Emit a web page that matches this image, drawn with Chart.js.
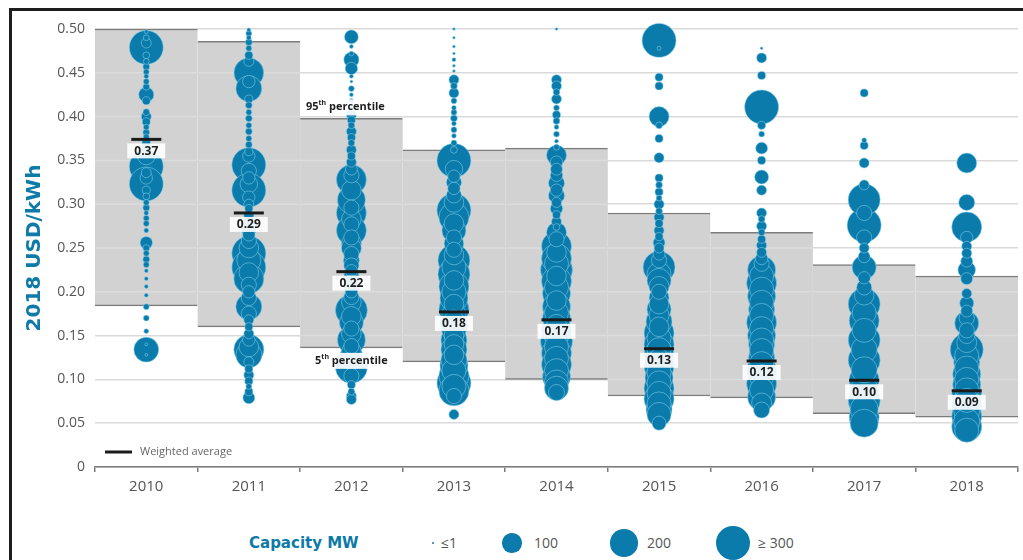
<!DOCTYPE html>
<html>
<head>
<meta charset="utf-8">
<script src="https://cdn.jsdelivr.net/npm/chart.js@4.4.1/dist/chart.umd.min.js"></script>
<style>
html,body{margin:0;padding:0;background:#fff;width:1023px;height:560px;overflow:hidden;font-family:"Open Sans",sans-serif;}
#frameL{position:absolute;left:9px;top:8px;width:3px;height:552px;background:#1e1e1e;}
#frameT{position:absolute;left:9px;top:8px;width:1014px;height:3px;background:#1e1e1e;}
#chart{position:absolute;left:0;top:0;}
#legend{position:absolute;left:0;top:520px;width:1023px;height:40px;}
.lg{position:absolute;top:0;height:46px;line-height:46px;white-space:nowrap;}
.lgTitle{font-family:"DejaVu Sans",sans-serif;font-weight:bold;font-size:15px;color:#0d7aa8;}
.lgText{font-family:"Open Sans",sans-serif;font-size:14px;color:#555;}
.dot{position:absolute;background:#0a7bab;border-radius:50%;}
</style>
</head>
<body>
<canvas id="chart" width="1023" height="505"></canvas>
<div id="legend"></div>
<div id="frameL"></div>
<div id="frameT"></div>
<script>
// ---------------- data ----------------
const years = [2010, 2011, 2012, 2013, 2014, 2015, 2016, 2017, 2018];
const percentile95 = [0.500, 0.486, 0.398, 0.362, 0.364, 0.290, 0.268, 0.231, 0.218];
const percentile5  = [0.184, 0.160, 0.136, 0.120, 0.100, 0.081, 0.079, 0.061, 0.057];
const weightedAverage = [0.374, 0.290, 0.223, 0.177, 0.168, 0.135, 0.121, 0.099, 0.087];
const averageLabels = ['0.37', '0.29', '0.22', '0.18', '0.17', '0.13', '0.12', '0.10', '0.09'];
const yAxisTitle = '2018 USD/kWh';
const legendTitle = 'Capacity MW';
const legendCapacities = [1, 100, 200, 300];
const legendLabels = ['≤1', '100', '200', '≥ 300'];

// [USD/kWh, capacity MW]
const projects2010 = [[0.497,4],[0.490,9],[0.484,26],[0.479,300],[0.470,12],[0.463,9],[0.457,12],[0.451,9],[0.446,6],[0.440,9],[0.434,12],[0.425,60],[0.418,17],[0.405,12],[0.400,26],[0.394,17],[0.388,9],[0.382,12],[0.377,9],[0.370,20],[0.362,40],[0.355,80],[0.343,300],[0.336,26],[0.330,40],[0.323,300],[0.316,17],[0.309,12],[0.302,9],[0.296,12],[0.290,6],[0.284,9],[0.278,9],[0.270,6],[0.256,40],[0.250,12],[0.244,9],[0.237,12],[0.231,9],[0.224,4],[0.215,4],[0.206,4],[0.196,4],[0.183,9],[0.170,9],[0.155,6],[0.134,160],[0.140,2],[0.128,2]];
const projects2011 = [[0.499,4],[0.495,9],[0.490,6],[0.485,12],[0.478,9],[0.470,17],[0.463,26],[0.450,230],[0.440,40],[0.432,175],[0.420,17],[0.413,12],[0.405,9],[0.398,12],[0.390,9],[0.383,12],[0.375,9],[0.368,12],[0.360,17],[0.355,40],[0.345,300],[0.338,60],[0.330,40],[0.323,80],[0.316,300],[0.308,40],[0.300,26],[0.295,17],[0.287,26],[0.280,40],[0.272,60],[0.265,40],[0.258,60],[0.250,100],[0.244,300],[0.236,150],[0.228,300],[0.222,100],[0.215,234],[0.208,60],[0.200,40],[0.193,60],[0.183,176],[0.175,60],[0.168,26],[0.160,17],[0.152,26],[0.145,40],[0.137,100],[0.134,234],[0.128,176],[0.120,26],[0.112,17],[0.105,26],[0.098,17],[0.092,9],[0.086,17],[0.079,37]];
const projects2012 = [[0.491,50],[0.480,4],[0.472,6],[0.465,60],[0.455,40],[0.446,4],[0.440,2],[0.432,9],[0.425,4],[0.418,6],[0.410,4],[0.402,26],[0.396,17],[0.390,12],[0.383,26],[0.376,17],[0.370,12],[0.362,26],[0.355,17],[0.348,26],[0.340,37],[0.333,60],[0.328,234],[0.316,100],[0.305,204],[0.296,60],[0.290,234],[0.283,100],[0.277,60],[0.270,234],[0.262,60],[0.255,104],[0.250,104],[0.243,60],[0.236,67],[0.230,60],[0.224,40],[0.218,60],[0.212,40],[0.206,60],[0.200,40],[0.194,60],[0.188,100],[0.179,266],[0.172,100],[0.165,150],[0.158,60],[0.152,100],[0.145,204],[0.138,60],[0.132,100],[0.125,150],[0.114,266],[0.104,60],[0.094,17],[0.086,12],[0.081,26],[0.077,26]];
const projects2013 = [[0.500,1],[0.490,1],[0.480,2],[0.472,1],[0.465,4],[0.458,2],[0.452,2],[0.442,26],[0.435,12],[0.427,26],[0.418,9],[0.410,6],[0.405,9],[0.398,12],[0.392,6],[0.385,9],[0.378,6],[0.370,9],[0.362,12],[0.350,300],[0.340,80],[0.332,40],[0.325,60],[0.318,40],[0.310,60],[0.302,100],[0.293,300],[0.285,234],[0.278,100],[0.270,150],[0.262,60],[0.255,100],[0.248,60],[0.242,100],[0.236,266],[0.228,150],[0.220,266],[0.213,100],[0.206,234],[0.200,150],[0.193,204],[0.186,100],[0.180,234],[0.174,150],[0.168,100],[0.162,204],[0.156,150],[0.150,100],[0.145,176],[0.140,100],[0.134,176],[0.128,100],[0.122,176],[0.116,204],[0.110,150],[0.104,234],[0.096,300],[0.092,150],[0.087,234],[0.081,60],[0.060,26]];
const projects2014 = [[0.500,1],[0.442,26],[0.435,26],[0.428,12],[0.420,26],[0.410,9],[0.402,17],[0.395,12],[0.388,6],[0.380,9],[0.372,4],[0.365,9],[0.356,104],[0.348,40],[0.340,37],[0.333,40],[0.324,67],[0.316,40],[0.310,67],[0.302,26],[0.295,40],[0.288,17],[0.280,26],[0.274,12],[0.268,104],[0.260,60],[0.252,234],[0.245,100],[0.238,234],[0.232,150],[0.225,266],[0.218,100],[0.212,234],[0.205,150],[0.198,204],[0.190,100],[0.183,204],[0.176,150],[0.170,204],[0.163,100],[0.156,234],[0.150,150],[0.143,266],[0.137,150],[0.130,234],[0.124,150],[0.117,234],[0.110,150],[0.103,204],[0.097,150],[0.090,150],[0.085,67]];
const projects2015 = [[0.487,300],[0.478,4],[0.445,17],[0.435,17],[0.400,104],[0.390,12],[0.375,17],[0.353,26],[0.330,17],[0.322,12],[0.314,17],[0.307,9],[0.300,26],[0.292,12],[0.285,26],[0.278,17],[0.270,26],[0.263,17],[0.256,37],[0.250,26],[0.243,37],[0.236,60],[0.228,266],[0.220,150],[0.213,150],[0.206,104],[0.200,60],[0.193,104],[0.186,100],[0.180,150],[0.173,104],[0.166,176],[0.160,100],[0.153,234],[0.147,150],[0.140,234],[0.134,150],[0.128,234],[0.121,150],[0.115,234],[0.108,150],[0.102,204],[0.096,150],[0.090,234],[0.084,150],[0.078,234],[0.072,150],[0.066,176],[0.060,150],[0.050,51]];
const projects2016 = [[0.478,1],[0.467,26],[0.447,17],[0.411,300],[0.390,17],[0.380,9],[0.364,37],[0.350,17],[0.331,51],[0.316,26],[0.290,26],[0.283,12],[0.275,26],[0.268,12],[0.260,17],[0.253,26],[0.245,26],[0.238,40],[0.232,60],[0.225,204],[0.218,150],[0.210,234],[0.203,150],[0.195,204],[0.188,150],[0.180,176],[0.173,150],[0.165,234],[0.158,150],[0.150,204],[0.145,150],[0.140,176],[0.133,150],[0.125,176],[0.118,150],[0.110,234],[0.103,150],[0.095,234],[0.088,150],[0.080,204],[0.073,104],[0.065,67]];
const projects2017 = [[0.427,17],[0.373,6],[0.367,17],[0.347,26],[0.322,26],[0.305,266],[0.290,60],[0.276,300],[0.262,60],[0.250,26],[0.240,37],[0.228,150],[0.216,40],[0.205,60],[0.196,100],[0.186,266],[0.176,150],[0.167,234],[0.156,150],[0.145,266],[0.134,176],[0.122,266],[0.111,176],[0.099,234],[0.088,204],[0.076,266],[0.066,204],[0.057,234],[0.050,204]];
const projects2018 = [[0.347,104],[0.302,67],[0.274,234],[0.262,40],[0.252,26],[0.244,26],[0.235,37],[0.225,80],[0.215,37],[0.198,26],[0.187,51],[0.178,37],[0.170,60],[0.164,150],[0.156,60],[0.150,67],[0.142,104],[0.134,284],[0.127,150],[0.120,176],[0.113,150],[0.106,204],[0.100,150],[0.094,204],[0.088,150],[0.082,234],[0.076,150],[0.070,234],[0.064,176],[0.058,234],[0.052,176],[0.046,234],[0.042,150]];

const projectsByYear = [projects2010, projects2011, projects2012, projects2013, projects2014, projects2015, projects2016, projects2017, projects2018];

// ---------------- styling helpers ----------------
const TEAL = '#0a7bab';
const radiusFor = mw => Math.max(1.3, Math.sqrt(mw) * 0.98);

const bubbleData = [];
years.forEach((yr, i) => projectsByYear[i].forEach(([price, mw]) => bubbleData.push({x: yr, y: price, r: radiusFor(mw)})));
bubbleData.sort((a, b) => b.r - a.r);

const bandData = years.map((yr, i) => ({x: yr, y: [percentile5[i], percentile95[i]]}));

// ---------------- overlay plugin ----------------
function drawSupLabel(ctx, main, sup, rest, cx, cy) {
  ctx.font = 'bold 11px "Open Sans"';
  const w1 = ctx.measureText(main).width;
  const w3 = ctx.measureText(rest).width;
  ctx.font = 'bold 7px "Open Sans"';
  const w2 = ctx.measureText(sup).width;
  const total = w1 + w2 + w3;
  ctx.fillStyle = 'rgba(255,255,255,0.92)';
  ctx.fillRect(cx - total / 2 - 3, cy - 8, total + 6, 16);
  ctx.fillStyle = '#1e1e1e';
  ctx.textBaseline = 'middle';
  ctx.textAlign = 'left';
  let x = cx - total / 2;
  ctx.font = 'bold 11px "Open Sans"';
  ctx.fillText(main, x, cy); x += w1;
  ctx.font = 'bold 7px "Open Sans"';
  ctx.fillText(sup, x, cy - 4); x += w2;
  ctx.font = 'bold 11px "Open Sans"';
  ctx.fillText(rest, x, cy);
}

const overlayPlugin = {
  id: 'overlay',
  beforeDatasetDraw(chart, args) {
    if (args.index !== 1) return;
    const {ctx} = chart;
    const yScale = chart.scales.y;
    const bars = chart.getDatasetMeta(0).data;
    bars.forEach(bar => {
      const top = Math.min(bar.y, bar.base), bot = Math.max(bar.y, bar.base);
      ctx.save();
      ctx.beginPath();
      ctx.rect(bar.x - bar.width / 2, top + 1.5, bar.width, bot - top - 3);
      ctx.clip();
      ctx.strokeStyle = '#dcdcdc';
      ctx.lineWidth = 1.5;
      yScale.ticks.forEach(t => {
        const py = yScale.getPixelForValue(t.value);
        ctx.beginPath();
        ctx.moveTo(bar.x - bar.width / 2, py);
        ctx.lineTo(bar.x + bar.width / 2, py);
        ctx.stroke();
      });
      ctx.restore();
    });
  },
  afterDatasetsDraw(chart) {
    const {ctx, chartArea} = chart;
    const xs = chart.scales.x, ys = chart.scales.y;
    ctx.save();
    // weighted averages
    years.forEach((yr, i) => {
      const cx = xs.getPixelForValue(yr);
      const cy = ys.getPixelForValue(weightedAverage[i]);
      ctx.strokeStyle = '#1b1b1b';
      ctx.lineWidth = 3;
      ctx.beginPath();
      ctx.moveTo(cx - 15, cy);
      ctx.lineTo(cx + 15, cy);
      ctx.stroke();
      ctx.font = 'bold 12px "Open Sans"';
      const tw = ctx.measureText(averageLabels[i]).width;
      const bw = tw + 14, bh = 15;
      ctx.fillStyle = 'rgba(255,255,255,0.9)';
      ctx.fillRect(cx - bw / 2, cy + 4, bw, bh);
      ctx.fillStyle = '#1e1e1e';
      ctx.textAlign = 'center';
      ctx.textBaseline = 'middle';
      ctx.fillText(averageLabels[i], cx, cy + 4 + bh / 2 + 0.5);
    });
    // percentile notes on 2012
    const k = years.indexOf(2012);
    const px = xs.getPixelForValue(2012);
    drawSupLabel(ctx, '95', 'th', ' percentile', px - 6, ys.getPixelForValue(percentile95[k]) - 11);
    drawSupLabel(ctx, '5', 'th', ' percentile', px, ys.getPixelForValue(percentile5[k]) + 13);
    // weighted average key
    const ly = chartArea.bottom - 15;
    ctx.strokeStyle = '#1b1b1b';
    ctx.lineWidth = 3;
    ctx.beginPath();
    ctx.moveTo(chartArea.left + 10, ly);
    ctx.lineTo(chartArea.left + 37, ly);
    ctx.stroke();
    ctx.fillStyle = '#666';
    ctx.font = '11px "Open Sans"';
    ctx.textAlign = 'left';
    ctx.textBaseline = 'middle';
    ctx.fillText('Weighted average', chartArea.left + 45, ly);
    ctx.restore();
  }
};

// ---------------- chart ----------------
new Chart(document.getElementById('chart'), {
  type: 'bubble',
  data: {
    datasets: [
      {
        type: 'bar',
        data: bandData,
        backgroundColor: '#d2d2d2',
        borderColor: '#7c7c7c',
        borderWidth: {top: 1.5, bottom: 1.5, left: 0, right: 0},
        borderSkipped: false,
        barPercentage: 1,
        categoryPercentage: 1,
        order: 2
      },
      {
        type: 'bubble',
        data: bubbleData,
        backgroundColor: TEAL,
        borderColor: 'rgba(135,212,240,0.6)',
        borderWidth: 0.9,
        clip: false,
        order: 1
      }
    ]
  },
  options: {
    responsive: false,
    devicePixelRatio: 1,
    animation: false,
    events: [],
    layout: {autoPadding: false, padding: {left: 14, right: 5, top: 29, bottom: 0}},
    plugins: {legend: {display: false}, tooltip: {enabled: false}},
    scales: {
      x: {
        type: 'linear',
        offset: false,
        min: years[0] - 0.5,
        max: years[years.length - 1] + 0.5,
        afterBuildTicks: s => { s.ticks = years.map(v => ({value: v})); },
        afterFit: s => { s.height = 38; s.paddingLeft = 0; s.paddingRight = 0; },
        border: {display: true, color: '#7a7a7a', width: 1.5},
        grid: {offset: true, drawOnChartArea: false, drawTicks: true, tickLength: 5, color: '#7a7a7a', lineWidth: 1.5},
        ticks: {
          autoSkip: false, maxRotation: 0, padding: 6,
          color: '#555', font: {family: 'Open Sans', size: 15},
          callback: v => String(v)
        }
      },
      y: {
        min: 0,
        max: 0.5,
        afterFit: s => { s.width = 81; },
        border: {display: false},
        grid: {color: '#dadada', lineWidth: 1.5, drawTicks: false},
        title: {display: true, text: yAxisTitle, color: '#0d7aa8', font: {family: 'DejaVu Sans', size: 20, weight: 'bold'}, padding: {top: 9, bottom: 0}},
        ticks: {
          stepSize: 0.05, padding: 10, color: '#555', font: {family: 'Open Sans', size: 14},
          callback: v => (Math.abs(v) < 1e-9 ? '0' : v.toFixed(2))
        }
      }
    }
  },
  plugins: [overlayPlugin]
});

// ---------------- legend ----------------
const legend = document.getElementById('legend');
const title = document.createElement('div');
title.className = 'lg lgTitle';
title.style.left = '249px';
title.textContent = legendTitle;
legend.appendChild(title);
const markerCenters = [433, 512, 624, 733];
const labelLefts = [441, 534, 647, 758];
legendCapacities.forEach((mw, i) => {
  const r = radiusFor(mw);
  const d = document.createElement('div');
  d.className = 'dot';
  d.style.width = d.style.height = (2 * r) + 'px';
  d.style.left = (markerCenters[i] - r) + 'px';
  d.style.top = (23 - r) + 'px';
  legend.appendChild(d);
  const t = document.createElement('div');
  t.className = 'lg lgText';
  t.style.left = labelLefts[i] + 'px';
  t.textContent = legendLabels[i];
  legend.appendChild(t);
});
</script>
</body>
</html>
